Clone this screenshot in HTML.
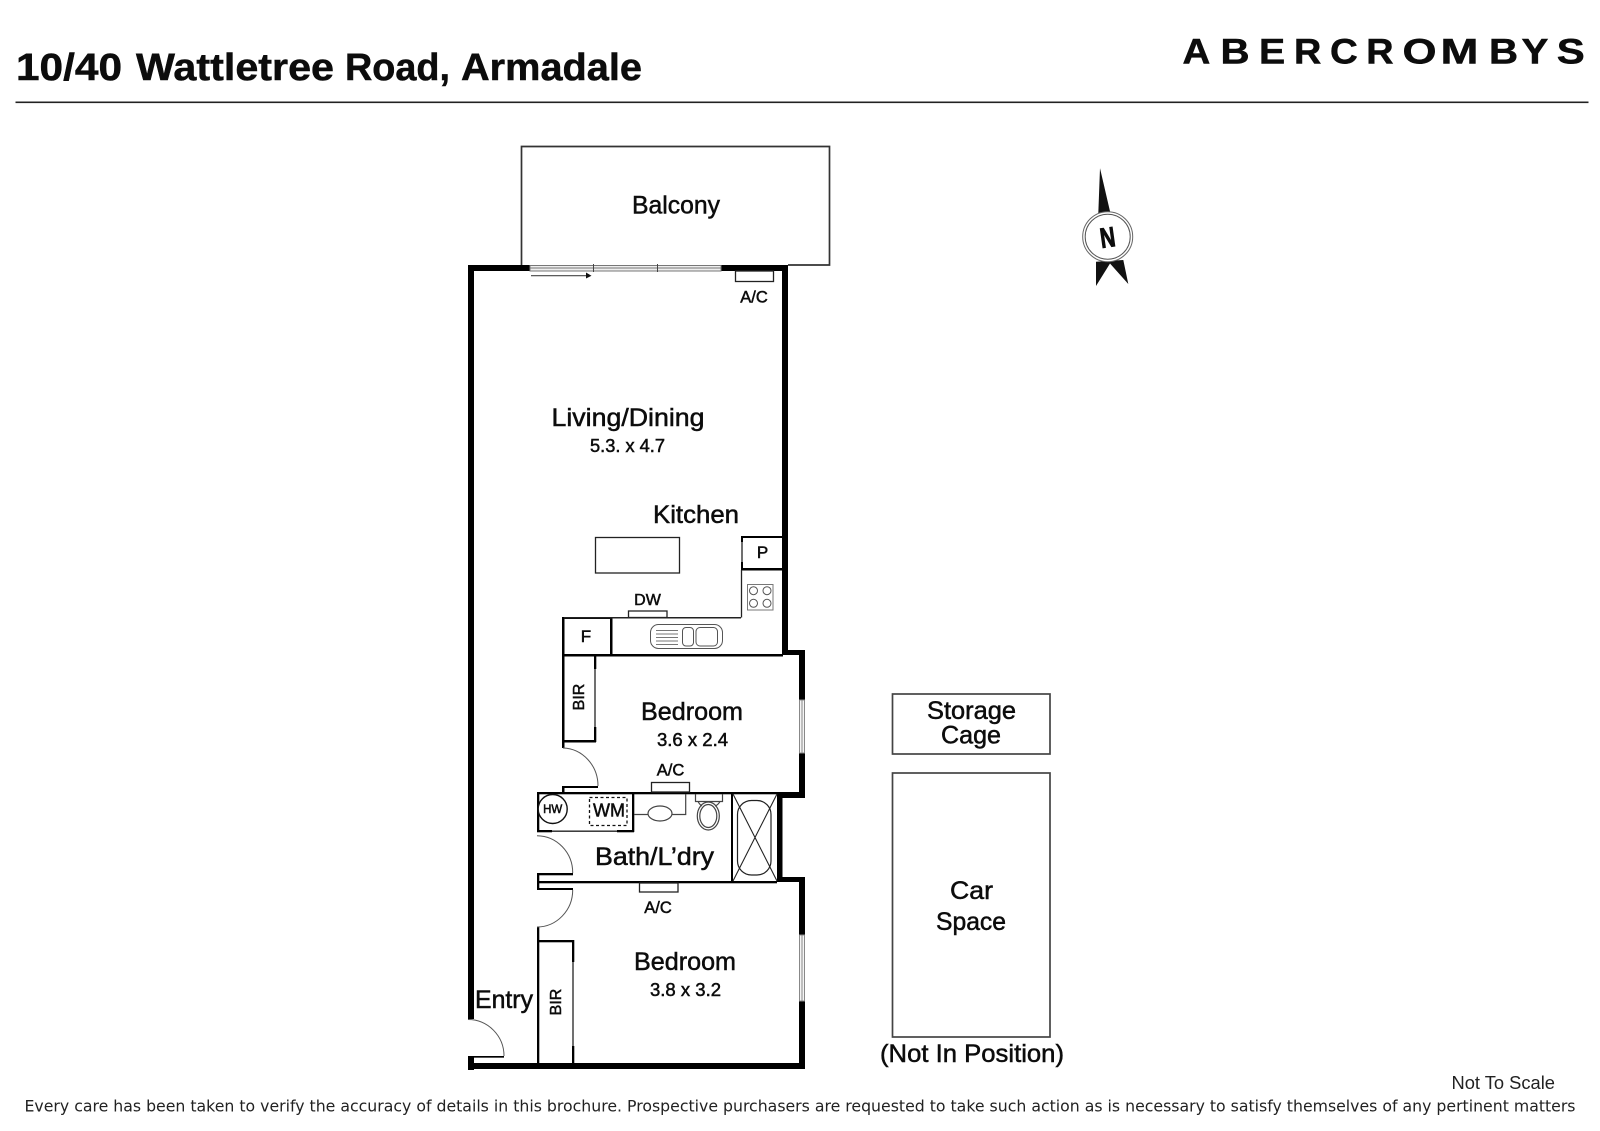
<!DOCTYPE html>
<html><head><meta charset="utf-8"><style>
html,body{margin:0;padding:0;background:#fff}
svg{display:block}
text{font-family:"Liberation Sans",sans-serif;fill:#0c0c0c;stroke:#0c0c0c;stroke-width:.5}
</style></head><body>
<svg width="1600" height="1131" viewBox="0 0 1600 1131" xmlns="http://www.w3.org/2000/svg">
<rect width="1600" height="1131" fill="#fff"/>
<!-- header -->
<g font-size="38" font-weight="700" style="stroke-width:.3">
<text x="16" y="80" textLength="106" lengthAdjust="spacingAndGlyphs">10/40</text>
<text x="136" y="80" textLength="198" lengthAdjust="spacingAndGlyphs">Wattletree</text>
<text x="345" y="80" textLength="105" lengthAdjust="spacingAndGlyphs">Road,</text>
<text x="461" y="80" textLength="181" lengthAdjust="spacingAndGlyphs">Armadale</text>
</g>
<rect x="15.500" y="101.500" width="1573" height="1.600" fill="#222"/>
<g font-size="35" font-weight="700" style="fill:#222;stroke:#222;stroke-width:1.300">
<text transform="translate(1182.500 63.500) scale(1.100 1)">A</text>
<text transform="translate(1220.500 63.500) scale(1.150 1)">B</text>
<text transform="translate(1259 63.500) scale(1.120 1)">E</text>
<text transform="translate(1294 63.500) scale(1.080 1)">R</text>
<text transform="translate(1330 63.500) scale(1.100 1)">C</text>
<text transform="translate(1366.300 63.500) scale(1.080 1)">R</text>
<text transform="translate(1402.500 63.500) scale(1.250 1)">O</text>
<text transform="translate(1440.500 63.500) scale(1.300 1)">M</text>
<text transform="translate(1489 63.500) scale(1.150 1)">B</text>
<text transform="translate(1521.500 63.500) scale(1.150 1)">Y</text>
<text transform="translate(1556.800 63.500) scale(1.200 1)">S</text>
</g>
<!-- balcony -->
<path d="M521.500 265V146.500H829.500V265H788" fill="none" stroke="#333" stroke-width="1.700"/>
<!-- thick walls -->
<g fill="#000">
<rect x="468" y="265" width="62" height="6"/>
<rect x="721" y="265" width="67" height="6"/>
<rect x="468" y="265" width="6" height="754"/>
<rect x="468" y="1056" width="6" height="14"/>
<rect x="468" y="1063" width="337" height="6"/>
<rect x="782" y="265" width="6" height="390"/>
<rect x="782" y="650" width="23" height="5"/>
<rect x="799" y="650" width="6" height="50"/>
<rect x="799" y="753" width="6" height="45"/>
<rect x="777" y="792" width="28" height="6"/>
<rect x="777" y="792" width="5.500" height="90"/>
<rect x="777" y="877" width="28" height="5"/>
<rect x="799" y="877" width="6" height="58"/>
<rect x="799" y="1001" width="6" height="68"/>
<!-- kitchen -->
<rect x="562" y="654" width="221" height="2.500"/>
<rect x="562" y="617" width="2.500" height="131"/>
<rect x="610" y="617" width="2.500" height="39"/>
<rect x="562" y="617" width="50" height="2"/>
<rect x="741" y="536" width="42" height="2"/>
<rect x="741" y="568" width="42" height="2.500"/>
<rect x="741" y="536" width="2" height="6"/>
<rect x="741" y="562" width="2" height="8"/>
<!-- BIR upper -->
<rect x="562" y="740" width="34" height="2.500"/>
<rect x="594" y="656" width="2.300" height="13"/>
<rect x="594" y="727" width="2.300" height="15"/>
<rect x="562" y="786" width="36" height="2"/>
<rect x="562" y="786" width="2.500" height="7"/>
<!-- bath -->
<rect x="537" y="792" width="240" height="2.300"/>
<rect x="537" y="792" width="2.300" height="40"/>
<rect x="537" y="830" width="15" height="2.300"/>
<rect x="617" y="830" width="17" height="2.300"/>
<rect x="632" y="792" width="2.300" height="40"/>
<rect x="537" y="873" width="36" height="2.300"/>
<rect x="537" y="873" width="2.300" height="17"/>
<rect x="537" y="881" width="240" height="2.300"/>
<rect x="537" y="888" width="36" height="2"/>
<rect x="731" y="794" width="2" height="88"/>
<!-- BIR lower -->
<rect x="537" y="927" width="2.300" height="137"/>
<rect x="537" y="940" width="37" height="2.300"/>
<rect x="572" y="940" width="2.300" height="22"/>
<rect x="572" y="1046" width="2.300" height="18"/>
<rect x="474" y="1056" width="30" height="2"/>
</g>
<g fill="none" stroke="#222" stroke-width="1.300">
<path d="M741.500 617.500V570"/>
<path d="M564 617.700H741" stroke-width="1.500"/>
<path d="M742 542V562"/>
<path d="M595 669V727"/>
<path d="M552 831.200H617"/>
<path d="M573 962V1046"/>
</g>
<!-- sliding door -->
<g fill="none" stroke="#777" stroke-width="1">
<rect x="530" y="265.500" width="191" height="5.500" fill="#eee"/>
<path d="M530 268H721"/>
<path d="M593.500 264V272M657.500 264V272" stroke="#444"/>
<path d="M531 275.700H588" stroke="#444" stroke-width="1.200"/>
</g>
<path d="M586 272.500L591.500 275.700L586 278.500Z" fill="#111"/>
<!-- windows -->
<g fill="#f4f4f4" stroke="#888" stroke-width="1">
<rect x="799.500" y="700" width="5" height="53"/>
<rect x="799.500" y="935" width="5" height="66"/>
<path d="M802 700V753M802 935V1001" fill="none"/>
</g>
<!-- fixtures -->
<g fill="#fff" stroke="#222" stroke-width="1.300">
<rect x="735.500" y="271" width="38" height="10.500"/>
<rect x="595.500" y="537.500" width="84" height="35.500"/>
<rect x="628.500" y="611" width="38.500" height="6.500"/>
<rect x="651.500" y="782.500" width="38" height="9.500"/>
<rect x="639.500" y="883" width="38.500" height="9"/>
</g>
<!-- cooktop -->
<g fill="none" stroke="#555" stroke-width="1">
<rect x="747.500" y="584.500" width="25.500" height="25.500" stroke="#777"/>
<circle cx="753.500" cy="590.700" r="4"/><circle cx="767" cy="590.700" r="4"/>
<circle cx="753.500" cy="603.300" r="4"/><circle cx="767" cy="603.300" r="4"/>
</g>
<!-- sink -->
<g fill="none" stroke="#555" stroke-width="1">
<rect x="650.500" y="624.500" width="72" height="24" rx="8"/>
<rect x="682.500" y="627.500" width="11" height="18.500" rx="3.500"/>
<rect x="696" y="627.500" width="21.500" height="18.500" rx="4"/>
<path d="M656 630.500H678M656 634H678M656 637.500H678M656 641H678M656 644.500H678" stroke="#777"/>
</g>
<!-- vanity -->
<g fill="none" stroke="#444" stroke-width="1.200">
<path d="M634 814.500H685.700V794"/>
<ellipse cx="660" cy="813.500" rx="12" ry="7.500" fill="#fff"/>
<path d="M695.500 794V801.500H722.500V794"/>
<path d="M698 801.500Q700 805 702 806M720 801.500Q718 805 715 806"/>
<ellipse cx="708.300" cy="816" rx="11" ry="14"/>
<ellipse cx="708.300" cy="816" rx="8.500" ry="11.500"/>
</g>
<!-- bath tub -->
<g fill="none" stroke="#222" stroke-width="1.100">
<path d="M733 794L777 881M777 794L733 881"/>
<rect x="737.500" y="800.500" width="33.500" height="74.500" rx="14" stroke-width="1.200"/>
</g>
<!-- HW / WM -->
<circle cx="552.700" cy="809" r="14.500" fill="#fff" stroke="#111" stroke-width="1.400"/>
<rect x="589.500" y="797.500" width="37.500" height="28" fill="none" stroke="#111" stroke-width="1.300" stroke-dasharray="3 2.500"/>
<!-- door arcs -->
<g fill="none" stroke="#555" stroke-width="1">
<path d="M563 748A36 38 0 0 1 598 786"/>
<path d="M537 835.700A36 37 0 0 1 572.700 873"/>
<path d="M572.700 890A36 37 0 0 1 537 927"/>
<path d="M468 1019.500A36 36.500 0 0 1 504 1056"/>
</g>
<path d="M474 1057.500H504" stroke="#555" stroke-width="1"/>
<!-- storage boxes -->
<g fill="none" stroke="#444" stroke-width="1.700">
<rect x="892.500" y="694" width="157.500" height="60"/>
<rect x="892.500" y="773" width="157.500" height="264"/>
</g>
<!-- north arrow -->
<g fill="#111">
<path d="M1100 168.300L1110.500 213.500H1098.300Z"/>
<path d="M1096 261.700L1123.300 260L1128.300 284L1110 263.500L1096 286Z"/>
</g>
<circle cx="1107.700" cy="236.700" r="25" fill="#fff" stroke="#666" stroke-width="1"/>
<circle cx="1107.700" cy="236.700" r="22.500" fill="#fff" stroke="#555" stroke-width="1"/>
<text x="1107.700" y="247" font-size="28" font-weight="700" text-anchor="middle" transform="rotate(-8 1107.700 238)" textLength="15" lengthAdjust="spacingAndGlyphs" style="stroke-width:1">N</text>
<!-- labels -->
<g>
<text x="632" y="213.500" font-size="25" textLength="88" lengthAdjust="spacingAndGlyphs">Balcony</text>
<text x="551.500" y="426" font-size="25" textLength="153" lengthAdjust="spacingAndGlyphs">Living/Dining</text>
<text x="590" y="452" font-size="18" textLength="75" lengthAdjust="spacingAndGlyphs">5.3. x 4.7</text>
<text x="653" y="523" font-size="25" textLength="86" lengthAdjust="spacingAndGlyphs">Kitchen</text>
<text x="641" y="720" font-size="25" textLength="102" lengthAdjust="spacingAndGlyphs">Bedroom</text>
<text x="657" y="746" font-size="18" textLength="71" lengthAdjust="spacingAndGlyphs">3.6 x 2.4</text>
<text x="634" y="970" font-size="25" textLength="102" lengthAdjust="spacingAndGlyphs">Bedroom</text>
<text x="650" y="996" font-size="18" textLength="71" lengthAdjust="spacingAndGlyphs">3.8 x 3.2</text>
<text x="595" y="865" font-size="25" textLength="119" lengthAdjust="spacingAndGlyphs">Bath/L’dry</text>
<text x="475" y="1008" font-size="25" textLength="58" lengthAdjust="spacingAndGlyphs">Entry</text>
<text x="927" y="719" font-size="25" textLength="89" lengthAdjust="spacingAndGlyphs">Storage</text>
<text x="941" y="743.500" font-size="25" textLength="60" lengthAdjust="spacingAndGlyphs">Cage</text>
<text x="950" y="899" font-size="25" textLength="43" lengthAdjust="spacingAndGlyphs">Car</text>
<text x="936" y="930" font-size="25" textLength="70" lengthAdjust="spacingAndGlyphs">Space</text>
<text x="880" y="1062" font-size="25" textLength="184" lengthAdjust="spacingAndGlyphs">(Not In Position)</text>
<text x="754" y="302.500" font-size="16.500" text-anchor="middle">A/C</text>
<text x="670.500" y="775.500" font-size="16.500" text-anchor="middle">A/C</text>
<text x="658" y="913" font-size="16.500" text-anchor="middle">A/C</text>
<text x="647.500" y="605" font-size="16" text-anchor="middle">DW</text>
<text x="762.500" y="558" font-size="17" text-anchor="middle">P</text>
<text x="586" y="642" font-size="17" text-anchor="middle">F</text>
<text x="552.700" y="813" font-size="11.500" text-anchor="middle">HW</text>
<text x="609" y="816.700" font-size="18" text-anchor="middle">WM</text>
<text transform="translate(584 697) rotate(-90)" font-size="16" text-anchor="middle">BIR</text>
<text transform="translate(561 1002) rotate(-90)" font-size="16" text-anchor="middle">BIR</text>
</g>
<text x="1451.500" y="1089" font-size="18" textLength="103.500" lengthAdjust="spacingAndGlyphs" style="stroke-width:0;fill:#222">Not To Scale</text>
<text x="24.500" y="1111.500" font-size="16" textLength="1551" lengthAdjust="spacingAndGlyphs" style="font-family:'DejaVu Sans',sans-serif;stroke-width:0;fill:#222">Every care has been taken to verify the accuracy of details in this brochure. Prospective purchasers are requested to take such action as is necessary to satisfy themselves of any pertinent matters</text>
</svg>
</body></html>
